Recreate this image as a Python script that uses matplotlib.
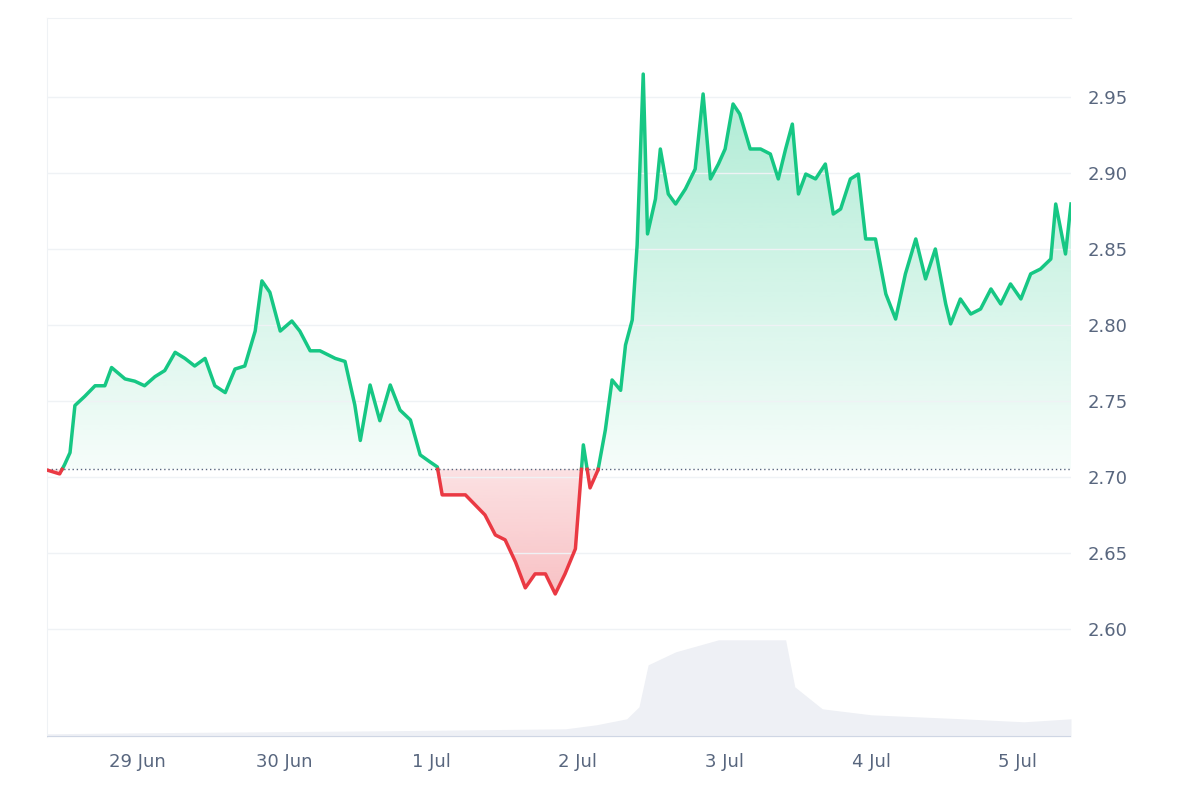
import matplotlib
matplotlib.use("Agg")
import matplotlib.pyplot as plt
from matplotlib.path import Path
import numpy as np

# hours since 29 Jun 00:00
hours = [-14.9, -12.8, -12.0, -11.1, -10.3, -8.7, -7.0, -5.4, -4.3, -2.1, -0.5, 1.1, 2.8, 4.4, 6.1, 7.7,
         9.3, 11.0, 12.6, 14.3, 15.9, 17.5, 19.2, 20.3, 21.6, 23.3, 25.2, 26.5, 28.2, 29.8, 32.3, 33.9,
         35.5, 36.4, 38.0, 39.6, 41.3, 42.9, 44.6, 46.2, 47.8, 49.0, 49.8, 51.9, 53.6, 55.2, 56.8, 58.5,
         60.1, 61.8, 63.4, 65.0, 66.7, 68.3, 69.9, 71.6, 72.9, 74.0, 75.3, 76.5, 77.6, 79.0, 79.8, 80.9,
         81.7, 82.7, 83.4, 84.7, 85.5, 86.8, 88.0, 89.6, 91.2, 92.5, 93.7, 95.0, 96.1, 97.4, 98.5, 100.2,
         101.9, 103.5, 104.8, 106.0, 107.1, 108.1, 109.3, 110.9, 112.5, 113.8, 115.0, 116.6, 117.9, 119.1,
         120.7, 122.4, 124.0, 125.6, 127.3, 128.9, 130.5, 132.2, 133.0, 134.6, 136.3, 137.9, 139.6, 141.2,
         142.8, 144.5, 146.1, 147.7, 149.4, 150.2, 151.0, 151.8, 152.7]
prices = [2.7046, 2.702, 2.708, 2.716, 2.747, 2.753, 2.760, 2.760, 2.772, 2.7645, 2.763, 2.760, 2.766,
          2.770, 2.782, 2.778, 2.773, 2.778, 2.760, 2.7555, 2.771, 2.773, 2.796, 2.829, 2.8215, 2.796,
          2.8026, 2.796, 2.783, 2.783, 2.778, 2.776, 2.7474, 2.724, 2.7605, 2.737, 2.7605, 2.744, 2.7375,
          2.7145, 2.7099, 2.7066, 2.6882, 2.6882, 2.6882, 2.6816, 2.675, 2.6618, 2.6586, 2.644, 2.627,
          2.6362, 2.6362, 2.623, 2.6362, 2.6527, 2.7211, 2.6928, 2.7046, 2.7309, 2.7638, 2.757, 2.7868,
          2.8033, 2.8526, 2.9651, 2.8599, 2.8829, 2.9158, 2.8862, 2.8796, 2.8895, 2.9026, 2.9520, 2.8961,
          2.9059, 2.9158, 2.9454, 2.9388, 2.9158, 2.9158, 2.9125, 2.8961, 2.9158, 2.9322, 2.8862, 2.8993,
          2.8961, 2.9059, 2.8730, 2.8763, 2.8961, 2.8993, 2.8566, 2.8566, 2.8204, 2.8039, 2.8336, 2.8566,
          2.8303, 2.8500, 2.8138, 2.8007, 2.8171, 2.8072, 2.8105, 2.8237, 2.8138, 2.8270, 2.8171, 2.8336,
          2.8368, 2.8434, 2.8796, 2.8632, 2.8467, 2.8796]
baseline = 2.705

vol_hours = [-14.9, 0, 40, 70, 75, 80, 82, 83.5, 88, 95, 106, 107.5, 112, 120, 135, 145, 152.7]
volume = [3, 4, 6, 8, 12, 18, 30, 72, 85, 97, 97, 50, 28, 22, 18, 15, 18]

day_ticks = [0, 24, 48, 72, 96, 120, 144]
day_labels = ["29 Jun", "30 Jun", "1 Jul", "2 Jul", "3 Jul", "4 Jul", "5 Jul"]
price_ticks = [2.60, 2.65, 2.70, 2.75, 2.80, 2.85, 2.90, 2.95]

green, red, gray = "#16c784", "#ea3943", "#58667e"

fig = plt.figure(figsize=(12, 8), dpi=100)
ax = fig.add_axes([0.039, 0.079, 0.8535, 0.8985])
ylim = (2.529, 3.002)

# add the baseline crossing points so the line colour switches cleanly
xs, ys = [hours[0]], [prices[0]]
for i in range(1, len(hours)):
    y0, y1 = prices[i - 1] - baseline, prices[i] - baseline
    if y0 * y1 < 0:
        t = y0 / (y0 - y1)
        xs.append(hours[i - 1] + t * (hours[i] - hours[i - 1]))
        ys.append(baseline)
    xs.append(hours[i])
    ys.append(prices[i])
x = np.array(xs)
y = np.array(ys)
xlim = (x[0], x[-1])

# volume in background
axv = ax.twinx()
axv.fill_between(vol_hours, volume, color="#eef0f5", lw=0)
axv.set_ylim(0, 719)
axv.set_axis_off()
ax.set_zorder(axv.get_zorder() + 1)
ax.patch.set_visible(False)

# gradient fills
up = ax.fill_between(x, y, baseline, where=y >= baseline, color="none", lw=0)
dn = ax.fill_between(x, y, baseline, where=y <= baseline, color="none", lw=0)
g = np.linspace(0, 1, 256).reshape(-1, 1)
for coll, col, ext in [(up, green, (baseline, 2.97)), (dn, red, (2.62, baseline))]:
    rgba = np.zeros((256, 1, 4))
    rgba[..., :3] = matplotlib.colors.to_rgb(col)
    if col == green:
        rgba[..., 3] = 0.04 + 0.32 * g
    else:
        rgba[..., 3] = 0.32 - 0.17 * g
    im = ax.imshow(rgba, extent=(xlim[0], xlim[1], ext[0], ext[1]), origin="lower",
                   aspect="auto", zorder=1)
    im.set_clip_path(Path.make_compound_path(*coll.get_paths()), transform=ax.transData)

ax.plot(x, np.where(y >= baseline, y, np.nan), color=green, lw=2.5, zorder=3)
ax.plot(x, np.where(y <= baseline, y, np.nan), color=red, lw=2.5, zorder=3)
ax.axhline(baseline, color=gray, lw=1, ls=(0, (1, 2)), zorder=2)

ax.set_xlim(*xlim)
ax.set_ylim(*ylim)
ax.set_xticks(day_ticks, day_labels)
ax.set_yticks(price_ticks, [f"{v:.2f}" for v in price_ticks])
ax.yaxis.tick_right()
ax.tick_params(length=0, labelsize=13, colors=gray, pad=12)
ax.grid(axis="y", color="#eff2f5", lw=1)
for s in ["right", "bottom"]:
    ax.spines[s].set_visible(False)
for s in ["top", "left"]:
    ax.spines[s].set_color("#eff2f5")
ax.axhline(ylim[0], color="#cfd6e4", lw=1.5, zorder=4)

fig.savefig("out.png")
